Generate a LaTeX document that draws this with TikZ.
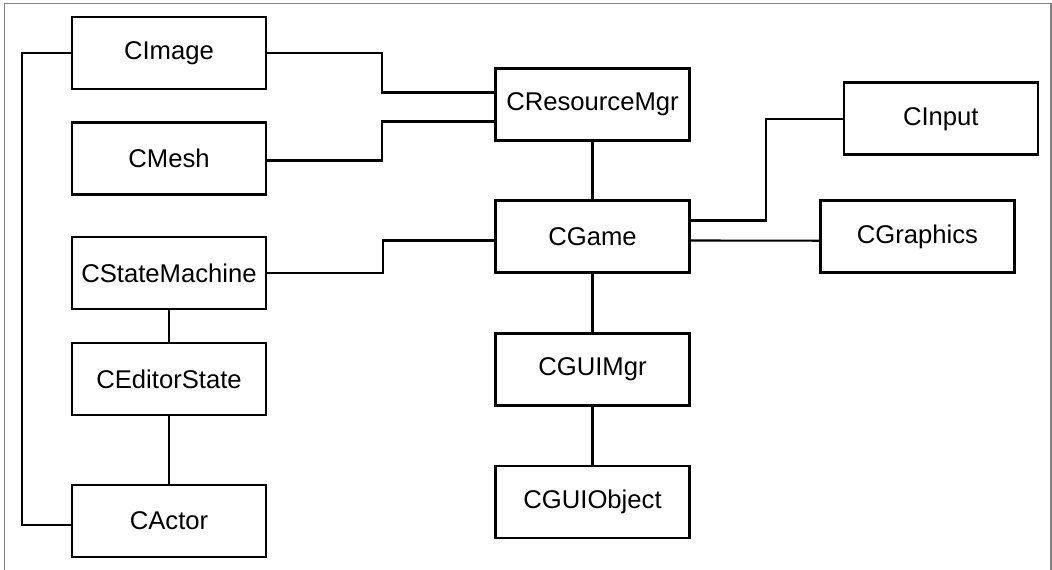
\documentclass[tikz,border=0pt]{standalone}
\usepackage{fontspec}
\setmainfont{Liberation Sans}
\usetikzlibrary{calc}
\begin{document}
\begin{tikzpicture}[x=0.02cm, y=-0.02cm,
        classbox/.style={draw, line width=1.4pt, minimum width=3.88cm, minimum height=1.44cm,
            inner sep=0pt, font=\fontsize{14.6}{16}\selectfont},
        link/.style={line width=1.2pt}]
        \useasboundingbox (0,0) rectangle (1052,569);

        % Frame
        \draw[gray, line width=0.6pt] (4.5,572) -- (4.5,3.5) -- (1051,3.5) -- (1051,572);

        % Left column
        \node[classbox] (image) at (169,53) {CImage};
        \node[classbox] (mesh) at (169,158.5) {CMesh};
        \node[classbox] (statemachine) at (169,273) {CStateMachine};
        \node[classbox] (editorstate) at (169,379) {CEditorState};
        \node[classbox] (actor) at (169,521) {CActor};

        % Middle column
        \node[classbox] (resmgr) at (592.5,104.5) {CResourceMgr};
        \node[classbox] (game) at (592.5,236.5) {CGame};
        \node[classbox] (guimgr) at (592.5,369.5) {CGUIMgr};
        \node[classbox] (guiobject) at (592.5,502) {CGUIObject};

        % Right column
        \node[classbox] (input) at (940.8,118.7) {CInput};
        \node[classbox] (graphics) at (917.5,236.7) {CGraphics};

        % Links to CResourceMgr
        \draw[link] (image.east) -- ++(115,0) |- ($(resmgr.west)+(0,-12)$);
        \draw[link] ($(mesh.east)+(0,2)$) -- ++(115,0) |- ($(resmgr.west)+(0,17)$);

        % Links of CGame
        \draw[link] (statemachine.east) -- ++(116,0) |- ($(game.west)+(0,4)$);
        \draw[link] ($(game.east)+(0,-16)$) -- ++(75,0) |- (input.west);
        \draw[link] ($(game.east)+(0,4)$) -- ($(graphics.west)+(0,4)$);
        \draw[link] (resmgr.south) -- (game.north);
        \draw[link] (game.south) -- (guimgr.north);
        \draw[link] (guimgr.south) -- (guiobject.north);

        % Left chain
        \draw[link] (statemachine.south) -- (editorstate.north);
        \draw[link] (editorstate.south) -- (actor.north);
        \draw[link] (image.west) -- ++(-49,0) |- ($(actor.west)+(0,4)$);
    \end{tikzpicture}
\end{document}
